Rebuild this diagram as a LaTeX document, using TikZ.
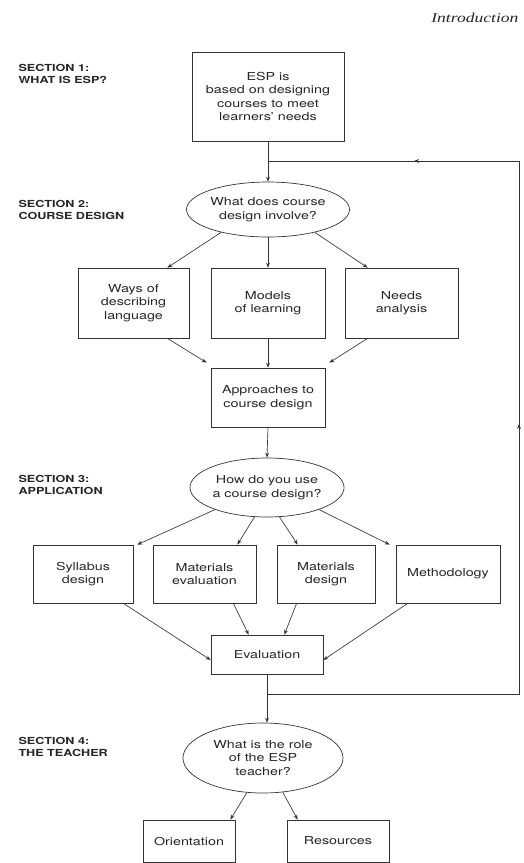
\documentclass[tikz,border=0pt]{standalone}
\usepackage{fontspec}
\setmainfont{TeX Gyre Heros}[FakeStretch=1.3]
\newfontfamily\introfont{Liberation Serif}[FakeStretch=1.3]
\usetikzlibrary{shapes.geometric,arrows.meta,decorations.markings}
\begin{document}
\begin{tikzpicture}[x=1pt,y=-1pt,
  every node/.style={font=\fontsize{11}{13.5}\selectfont, text=black!85},
  box/.style={draw=black!80, rectangle, line width=0.7pt, align=center, inner sep=0pt},
  oval/.style={draw=black!80, ellipse, line width=0.7pt, align=center, inner sep=0pt},
  tip/.style={-{Stealth[length=5pt,width=3.8pt]}},
  arr/.style={draw=black!80, line width=0.65pt, tip},
  ln/.style={draw=black!80, line width=0.65pt},
  sec/.style={anchor=west, align=left, font=\fontsize{9.7}{12}\selectfont\bfseries}
]
\useasboundingbox (0,0) rectangle (523,863);

% header
\node[anchor=east, font=\introfont\itshape\fontsize{13.5}{16}\selectfont] (intro) at (522,18) {Introduction};

% section labels
\node[sec] (s1) at (15,74) {SECTION 1:\\WHAT IS ESP?};
\node[sec] (s2) at (15,210) {SECTION 2:\\COURSE DESIGN};
\node[sec] (s3) at (15,485) {SECTION 3:\\APPLICATION};
\node[sec] (s4) at (15,747) {SECTION 4:\\THE TEACHER};

% nodes
\node[box, minimum width=152pt, minimum height=89pt] (b1) at (268,96.5) {ESP is\\based on designing\\courses to meet\\learners' needs};
\node[oval, minimum width=135pt, minimum height=55pt] (e2) at (268,209.5) {What does course\\design involve?};
\node[box, minimum width=111pt, minimum height=70pt] (ways) at (133.5,303) {Ways of\\describing\\language};
\node[box, minimum width=114pt, minimum height=70pt] (models) at (268,303) {Models\\of learning};
\node[box, minimum width=113pt, minimum height=70pt] (needs) at (401.5,303) {Needs\\analysis};
\node[box, minimum width=114pt, minimum height=59pt] (appr) at (268,397.5) {Approaches to\\course design};
\node[oval, minimum width=135pt, minimum height=59pt] (e3) at (267,487.5) {How do you use\\a course design?};
\node[box, minimum width=100pt, minimum height=58pt] (syll) at (83,574) {Syllabus\\design};
\node[box, minimum width=103pt, minimum height=58pt] (mateval) at (204.5,574) {Materials\\evaluation};
\node[box, minimum width=98pt, minimum height=58pt] (matdes) at (326,574) {Materials\\design};
\node[box, minimum width=104pt, minimum height=58pt] (method) at (448,574) {Methodology};
\node[box, minimum width=112pt, minimum height=39pt] (eval) at (267,654.5) {Evaluation};
\node[oval, minimum width=160pt, minimum height=70pt] (e4) at (263,758) {What is the role\\of the ESP\\teacher?};
\node[box, minimum width=92pt, minimum height=42pt] (orient) at (189,841) {Orientation};
\node[box, minimum width=102pt, minimum height=42pt] (res) at (338,841) {Resources};

% junctions
\coordinate (j1) at (268,161);
\coordinate (j2) at (267,694);
\coordinate (c1) at (519,694);
\coordinate (c2) at (519,161);

% connectors
\draw[ln] (b1.south) -- (j1);
\draw[arr] (j1) -- (e2.north);

\draw[arr] (e2.206) -- ([xshift=-22pt]ways.north east);
\draw[arr] (e2.south) -- (models.north);
\draw[arr] (e2.334) -- ([xshift=23pt]needs.north west);

\draw[arr] ([xshift=-22pt]ways.south east) -- ([shift={(-4pt,5pt)}]appr.north west);
\draw[arr] (models.south) -- (appr.north);
\draw[arr] ([xshift=23pt]needs.south west) -- ([shift={(4pt,5pt)}]appr.north east);

\draw[arr] (appr.south) -- (e3.north);

\draw[arr] (e3.203) -- ([xshift=4pt]syll.north east);
\draw[arr] (e3.247) -- ([xshift=-19pt]mateval.north east);
\draw[arr] (e3.293) -- ([xshift=21pt]matdes.north west);
\draw[arr] (e3.337) -- ([xshift=-6pt]method.north west);

\draw[arr] ([xshift=-10pt]syll.south east) -- ([yshift=-5.5pt]eval.west);
\draw[arr] ([xshift=-23pt]mateval.south east) -- ([xshift=38pt]eval.north west);
\draw[arr] ([xshift=20pt]matdes.south west) -- ([xshift=-39pt]eval.north east);
\draw[arr] ([xshift=12pt]method.south west) -- ([yshift=-5.5pt]eval.east);

\draw[ln] (eval.south) -- (j2);
\draw[arr] (j2) -- (j2 |- e4.north);

% feedback loop
\draw[ln, postaction={decorate}, decoration={markings,
    mark=at position 0.504 with {\arrow{Stealth[length=5pt,width=3.8pt]}},
    mark=at position 0.859 with {\arrow{Stealth[length=5pt,width=3.8pt]}}}]
  (j2) -- (c1) -- (c2) -- (j1);

\draw[arr] (e4.245) -- ([xshift=-5pt]orient.north east);
\draw[arr] (e4.300) -- ([xshift=11pt]res.north west);
\end{tikzpicture}
\end{document}
